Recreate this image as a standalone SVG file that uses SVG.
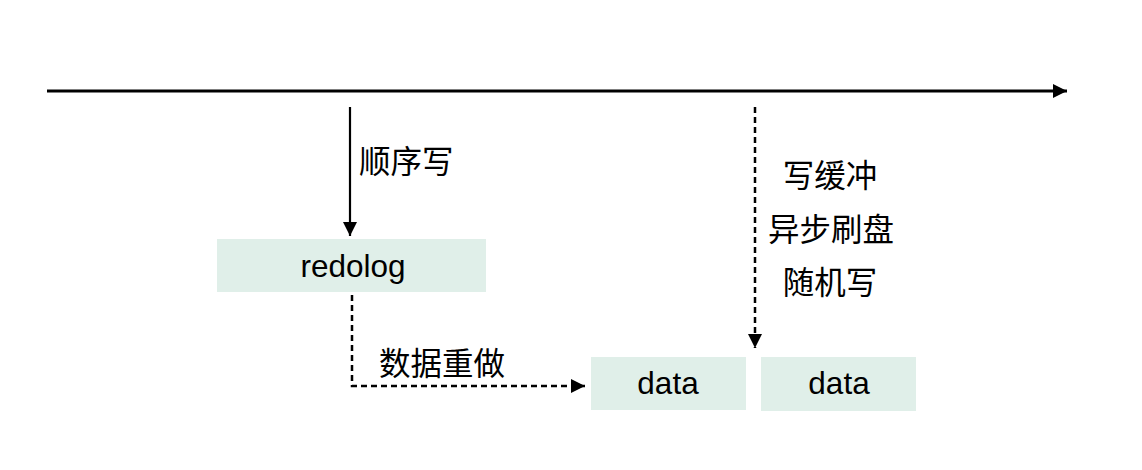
<svg xmlns="http://www.w3.org/2000/svg" width="1142" height="470" viewBox="0 0 1142 470">
<style>
.box{fill:#e0efe9}
.t{font-family:"Liberation Sans","Noto Sans CJK SC",sans-serif;font-size:31.5px;fill:#000}
.c{text-anchor:middle}
.ln{stroke:#000;fill:none}
.d{stroke-dasharray:6,4;stroke-width:2.5}
</style>
<defs>
<marker id="ahL" viewBox="0 0 10 10" refX="10" refY="5" markerWidth="14" markerHeight="14" markerUnits="userSpaceOnUse" orient="auto"><path d="M0,0L10,5L0,10z" fill="#000"/></marker>
</defs>
<rect width="1142" height="470" fill="#fff"/>
<g id="connectors">
<line class="ln" x1="47" y1="91" x2="1067" y2="91" stroke-width="3" marker-end="url(#ahL)"/>
<line class="ln" x1="350" y1="107" x2="350" y2="236" stroke-width="2.2" marker-end="url(#ahL)"/>
<polyline class="ln d" points="352,295 352,386 585,386" marker-end="url(#ahL)"/>
<line class="ln d" x1="755" y1="107" x2="755" y2="348" marker-end="url(#ahL)"/>
</g>
<g id="label-seq"><text class="t" x="359" y="173">顺序写</text></g>
<g id="label-redo"><text class="t" x="379" y="375">数据重做</text></g>
<g id="label-async">
<text class="t c" x="830" y="187">写缓冲</text>
<text class="t c" x="831" y="241">异步刷盘</text>
<text class="t c" x="830" y="294">随机写</text>
</g>
<g id="redolog"><rect class="box" x="217" y="239" width="269" height="53"/><text class="t c" x="353" y="277">redolog</text></g>
<g id="data1"><rect class="box" x="591" y="357" width="155" height="53"/><text class="t c" x="668" y="394">data</text></g>
<g id="data2"><rect class="box" x="761" y="357" width="155" height="54"/><text class="t c" x="839" y="394">data</text></g>
</svg>
